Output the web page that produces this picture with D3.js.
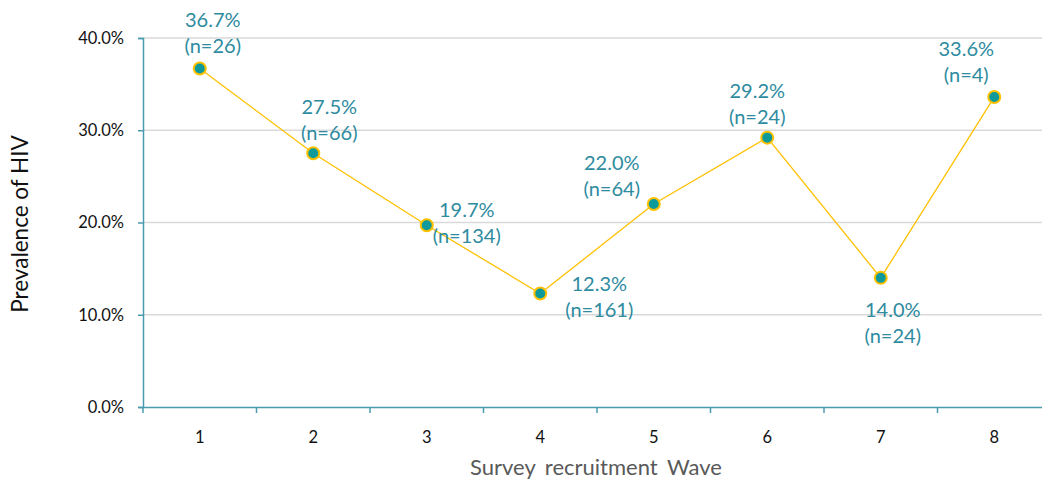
<!DOCTYPE html>
<html><head><meta charset="utf-8">
<script src="https://cdn.jsdelivr.net/npm/d3@7"></script>
<style>body{margin:0;background:#fff}svg{display:block}</style>
</head><body>
<svg id="c" width="1042" height="485"></svg>
<script>
const waves = ["1","2","3","4","5","6","7","8"];
const prevalence = [36.7, 27.5, 19.7, 12.3, 22.0, 29.2, 14.0, 33.6];
const sampleN = [26, 66, 134, 161, 64, 24, 24, 4];
const yTicks = [0, 10, 20, 30, 40];
// label placement offsets (px) relative to each point: [dx, dy of first line baseline]
const labelOffsets = [[13,-41],[16,-39],[40,-8],[59,-3],[-42,-34],[-10,-40],[12,39],[-28,-41]];

const svg = d3.select("#c");
const font = "Lato, 'Open Sans', sans-serif";
const x = d3.scaleBand().domain(waves).range([143, 1051]);
const y = d3.scaleLinear().domain([0, 40]).range([407, 38]);
const axisColor = "#4A9BB0";

// gridlines
svg.append("g").selectAll("line").data(yTicks.filter(d=>d>0)).join("line")
  .attr("x1", 143).attr("x2", 1042)
  .attr("y1", d=>y(d)).attr("y2", d=>y(d))
  .attr("stroke", "#d9d9d9").attr("stroke-width", 1.5);

// y axis
const ya = svg.append("g").attr("transform","translate(143,0)")
  .call(d3.axisLeft(y).tickValues(yTicks).tickFormat(d=>d.toFixed(1)+"%").tickSize(5).tickPadding(14));
ya.select(".domain").attr("stroke", axisColor).attr("stroke-width",1.5);
ya.selectAll(".tick line").attr("stroke", axisColor).attr("stroke-width",1.5);
ya.selectAll("text").attr("font-family", font).attr("font-size", 16.5).attr("fill","#111");

// x axis
const xa = svg.append("g").attr("transform","translate(0,407)")
  .call(d3.axisBottom(x).tickSize(0).tickPadding(24));
xa.select(".domain").attr("stroke", axisColor).attr("stroke-width",1.5);
xa.selectAll("text").attr("font-family", font).attr("font-size", 16.5).attr("fill","#111");
// band boundary ticks
xa.append("g").selectAll("line").data(waves).join("line")
  .attr("x1", d=>x(d)).attr("x2", d=>x(d)).attr("y1",0).attr("y2",6)
  .attr("stroke", axisColor).attr("stroke-width",1.5);

// titles
svg.append("text").attr("transform","translate(28,224) rotate(-90)")
  .attr("text-anchor","middle").attr("font-family",font).attr("font-size",22.5).attr("fill","#111")
  .text("Prevalence of HIV");
svg.append("text").attr("x",596).attr("y",475).attr("text-anchor","middle")
  .attr("font-family",font).attr("font-size",22).attr("fill","#595959").attr("word-spacing","4px")
  .text("Survey recruitment Wave");

const cx = i => x(waves[i]) + x.bandwidth()/2;
// line
svg.append("path").datum(prevalence)
  .attr("d", d3.line().x((d,i)=>cx(i)).y(d=>y(d)))
  .attr("fill","none").attr("stroke","#FFC000").attr("stroke-width",1.3);

// markers
svg.append("g").selectAll("circle").data(prevalence).join("circle")
  .attr("cx",(d,i)=>cx(i)).attr("cy",d=>y(d)).attr("r",6)
  .attr("fill","#0E9A9A").attr("stroke","#FFC000").attr("stroke-width",2);

// labels
const lg = svg.append("g").attr("font-family",font).attr("font-size",20).attr("fill","#2E8BA0").attr("text-anchor","middle");
prevalence.forEach((v,i)=>{
  const [dx,dy] = labelOffsets[i];
  const t = lg.append("text").attr("x", cx(i)+dx).attr("y", y(v)+dy);
  t.append("tspan").attr("x", cx(i)+dx).text(v.toFixed(1)+"%");
  t.append("tspan").attr("x", cx(i)+dx).attr("dy", 26).text("(n="+sampleN[i]+")");
});
</script>
</body></html>
